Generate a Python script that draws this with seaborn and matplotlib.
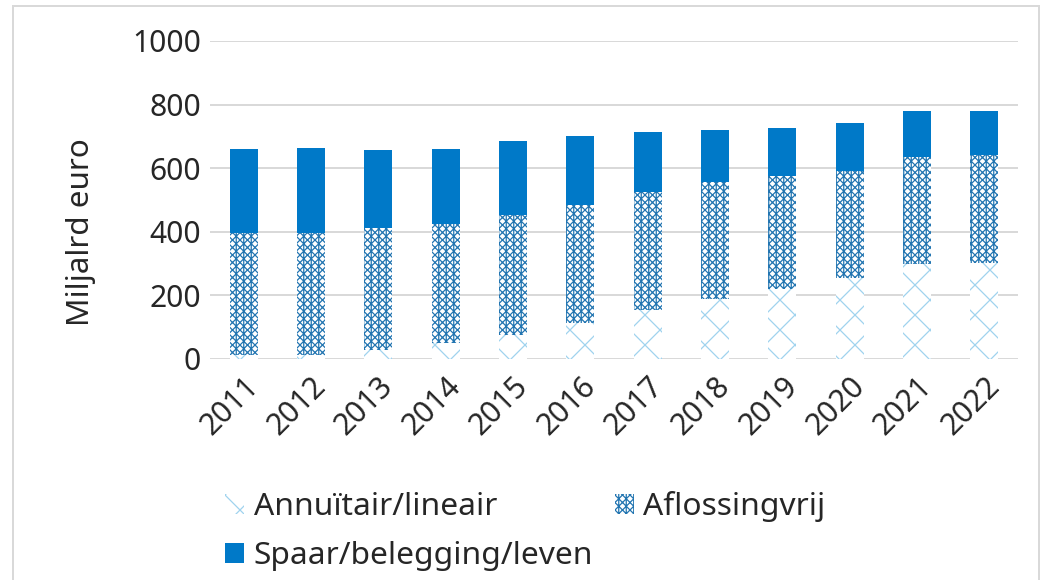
import numpy as np
import matplotlib.pyplot as plt
import matplotlib.patches as mpatches
import seaborn as sns

years = [str(y) for y in range(2011, 2023)]
annuitair = [12, 12, 28, 50, 75, 113, 154, 189, 220, 255, 299, 302]
aflossingvrij = [384, 384, 384, 375, 378, 371, 371, 368, 355, 336, 336, 339]
spaar = [264, 267, 245, 235, 232, 217, 189, 163, 151, 151, 145, 139]
yticks = [0, 200, 400, 600, 800, 1000]

c_annu = "#9fd3ee"
c_aflos = "#2275b1"
c_spaar = "#0079c8"
hatch_annu = "xx"
hatch_aflos = "xxxxxxxx||||"

DPI = 180
sns.set_style("white")
plt.rcParams["font.family"] = ["Noto Sans", "DejaVu Sans"]
plt.rcParams["hatch.linewidth"] = 0.5

fig = plt.figure(figsize=(1042 / DPI, 580 / DPI), dpi=DPI)
ax = fig.add_axes([210 / 1042, 1 - 359 / 580, 808 / 1042, 318 / 580])

# stacked bars drawn as cumulative totals, tallest first
mid = np.array(annuitair) + np.array(aflossingvrij)
total = mid + np.array(spaar)
sns.barplot(x=years, y=total, color=c_spaar, saturation=1, width=0.42,
            linewidth=0, errorbar=None, ax=ax, zorder=2)
sns.barplot(x=years, y=mid, color="white", saturation=1, width=0.42,
            edgecolor=c_aflos, linewidth=0, hatch=hatch_aflos, errorbar=None, ax=ax, zorder=3)
sns.barplot(x=years, y=annuitair, color="white", saturation=1, width=0.42,
            edgecolor=c_annu, linewidth=0, hatch=hatch_annu, errorbar=None, ax=ax, zorder=4)

ax.set_xlim(-0.5, 11.5)
ax.set_ylim(0, 1000)
ax.set_yticks(yticks)
ax.yaxis.grid(True, color="#d9d9d9", linewidth=0.8, zorder=0)
ax.set_axisbelow(True)
sns.despine(ax=ax, left=True, bottom=True)
ax.set_xlabel("")
ax.set_ylabel("")
ax.tick_params(axis="y", length=0, pad=3.6, labelsize=12)
ax.tick_params(axis="x", length=0, pad=4.8, labelsize=12, labelrotation=45)
plt.setp(ax.get_xticklabels(), ha="right", rotation_mode="anchor")

fig.text(81 / 1042, 1 - 232 / 580, "Miljalrd euro", rotation=90,
         ha="center", va="center", fontsize=12.6)

handles = [
    mpatches.Patch(facecolor="white", edgecolor=c_annu, linewidth=0, hatch=hatch_annu, label="Annuïtair/lineair"),
    mpatches.Patch(facecolor=c_spaar, linewidth=0, label="Spaar/belegging/leven"),
    mpatches.Patch(facecolor="white", edgecolor=c_aflos, linewidth=0, hatch=hatch_aflos, label="Aflossingvrij"),
]
fig.legend(handles=handles, ncol=2, loc="upper left", bbox_to_anchor=(225 / 1042, 1 - 491 / 580),
           frameon=False, fontsize=12.7, handlelength=0.6, handleheight=0.6,
           handletextpad=0.3, columnspacing=0.68, labelspacing=0.6,
           borderpad=0, borderaxespad=0)

fig.patches.append(mpatches.Rectangle((13 / 1042, -0.1), 1026 / 1042, 1.1 - 6 / 580,
                                      transform=fig.transFigure, fill=False,
                                      edgecolor="#d9d9d9", linewidth=0.8))

fig.savefig("out.png", dpi=DPI)
